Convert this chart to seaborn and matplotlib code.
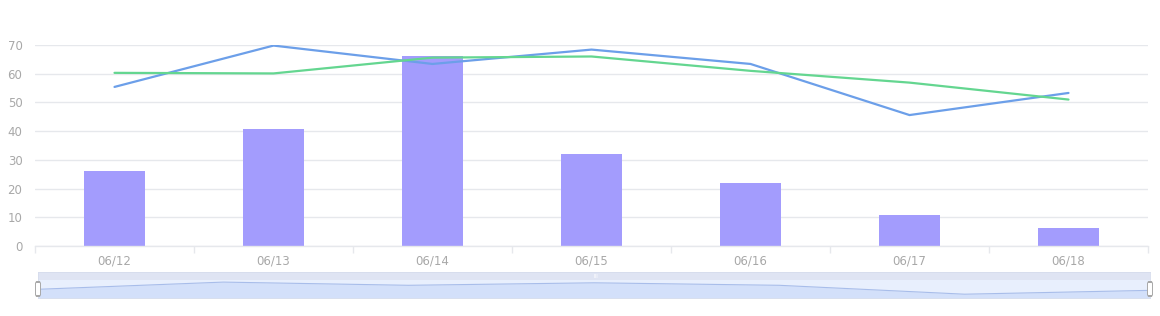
import matplotlib
matplotlib.use("Agg")
import matplotlib.pyplot as plt
import matplotlib.patches as mpatches
import seaborn as sns
import pandas as pd
import numpy as np

dates = ["06/12", "06/13", "06/14", "06/15", "06/16", "06/17", "06/18"]
bar_values = [26, 40.8, 66, 32, 22, 10.8, 6.3]
blue_values = [55.4, 69.8, 63.4, 68.4, 63.4, 45.6, 53.3]
green_values = [60.3, 60.1, 65.6, 66.0, 61.0, 56.9, 51.0]
y_ticks = [0, 10, 20, 30, 40, 50, 60, 70]

BAR_C = "#a39cfd"
BLUE_C = "#6c9fe9"
GREEN_C = "#64d690"
GRID_C = "#e6e8ec"
LABEL_C = "#a8a8a8"

sns.set_theme(style="white")
plt.rcParams["font.family"] = ["DejaVu Sans"]

W, H = 1160, 316
fig = plt.figure(figsize=(W / 100, H / 100), dpi=100)

def px_axes(x0, x1, ytop, ybot):
    return fig.add_axes([x0 / W, 1 - ybot / H, (x1 - x0) / W, (ybot - ytop) / H])

ax = px_axes(35, 1148, 45, 246)

df = pd.DataFrame({"date": dates, "bar": bar_values, "blue": blue_values, "green": green_values})
df["pos"] = np.arange(len(dates))

sns.barplot(data=df, x="pos", y="bar", native_scale=True, color=BAR_C, width=0.38,
            saturation=1, ax=ax, zorder=2, edgecolor="none")
sns.lineplot(data=df, x="pos", y="blue", color=BLUE_C, lw=1.6, ax=ax, zorder=3)
sns.lineplot(data=df, x="pos", y="green", color=GREEN_C, lw=1.6, ax=ax, zorder=3)

ax.set_xlim(-0.5, len(dates) - 0.5)
ax.set_ylim(0, 70)
ax.set_yticks(y_ticks)
ax.set_yticklabels([str(v) for v in y_ticks])
ax.set_xticks(df["pos"])
ax.set_xticklabels(dates)
ax.set_xticks(np.arange(-0.5, len(dates)), minor=True)
ax.tick_params(axis="x", which="major", length=0, pad=6, labelsize=8.5, labelcolor=LABEL_C)
ax.tick_params(axis="x", which="minor", length=5, color=GRID_C, width=1, direction="out", bottom=True)
ax.tick_params(axis="y", length=0, pad=9, labelsize=8.5, labelcolor=LABEL_C)
ax.set_xlabel("")
ax.set_ylabel("")
ax.grid(axis="y", color=GRID_C, lw=1, zorder=0)
ax.set_axisbelow(True)
for s in ["top", "right", "left"]:
    ax.spines[s].set_visible(False)
ax.spines["bottom"].set_color(GRID_C)
ax.spines["bottom"].set_linewidth(1)
ax.patch.set_alpha(0)

# Data zoom slider
sax = px_axes(38, 1150, 272, 298)
sax.set_xlim(0, len(dates) - 1)
sax.set_ylim(38, 90)
sax.set_facecolor("#e8effd")
sax.axhspan(74, 90, color="#dfe4f3", lw=0, zorder=0)
sns.lineplot(data=df, x="pos", y="blue", color="#a8bdea", lw=0.8, ax=sax, zorder=2)
sax.fill_between(df["pos"], df["blue"], 38, color="#d3e0fa", lw=0, zorder=1)
sax.set_xticks([])
sax.set_yticks([])
sax.set_xlabel("")
sax.set_ylabel("")
for s in sax.spines.values():
    s.set_color("#d6dcec")
    s.set_linewidth(0.6)

for hx in (38, 1150):
    x0 = hx - 2.5
    fig.patches.append(mpatches.FancyBboxPatch(
        (x0 / W, 1 - 296 / H), 5 / W, 14 / H,
        boxstyle="round,pad=0,rounding_size=0.004",
        transform=fig.transFigure, facecolor="white", edgecolor="#a8a8a8", lw=0.7, zorder=5))

fig.text(596 / W, 1 - 276 / H, "III", color="white", fontsize=4, ha="center", va="center")

fig.savefig("out.png", dpi=100)
